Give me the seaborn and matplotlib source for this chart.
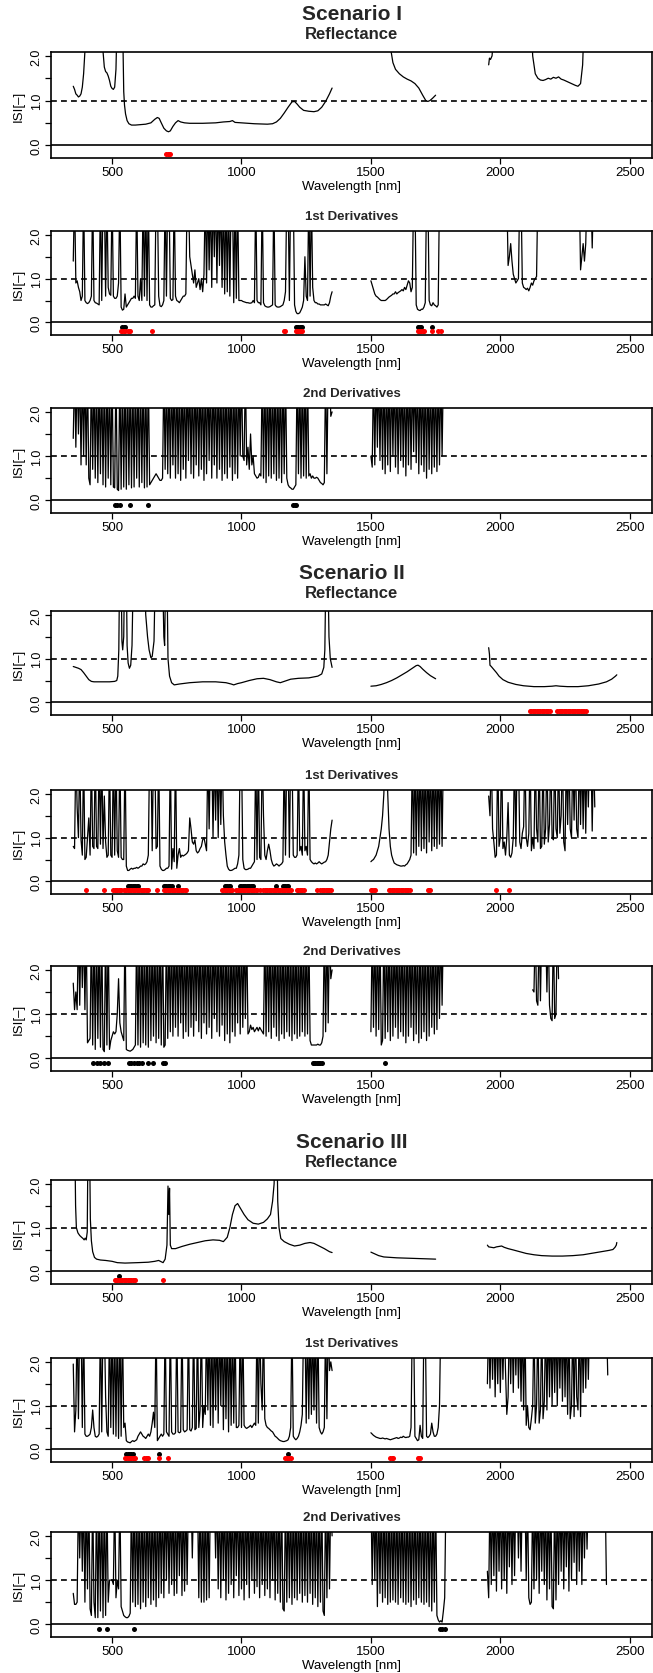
import numpy as np
import pandas as pd
import matplotlib
matplotlib.use("Agg")
import matplotlib.pyplot as plt
import seaborn as sns

sns.set_theme(style="ticks")
plt.rcParams['font.family'] = ['Liberation Sans', 'DejaVu Sans']
NARROW = ['Liberation Sans Narrow', 'Liberation Sans', 'DejaVu Sans']
nan = float('nan')

# ---------------- data ----------------
scenarios = ["Scenario I", "Scenario II", "Scenario III"]
panel_titles = ["Reflectance", "1st Derivatives", "2nd Derivatives"]
x_ticks = [500, 1000, 1500, 2000, 2500]
y_ticks = [0.0, 0.5, 1.0, 1.5, 2.0]
y_ticklabels = ["0.0", "", "1.0", "", "2.0"]
STEP = 5  # sampling interval (nm) of the derivative ISI spectra

# Reflectance ISI (wavelength, value); nan separates the spectral segments
s1_refl_wl = [350, 355, 360, 365, 370, 375, 380, 385, 390, 395, 400, 460, 465, 470, 475, 480, 485, 490, 495, 500,
              505, 510, 515, 520, 540, 545, 548, 552, 558, 565, 575, 590, 610, 630, 650, 665, 675, 682, 690, 700,
              710, 718, 725, 735, 745, 755, 765, 780, 800, 850, 900, 930, 955, 965, 975, 1000, 1050, 1100, 1120, 1135,
              1150, 1165, 1180, 1195, 1205, 1215, 1225, 1240, 1260, 1280, 1295, 1310, 1325, 1340, 1350, 1400,
              1570, 1578, 1585, 1595, 1610, 1625, 1640, 1655, 1670, 1685, 1700, 1712, 1720, 1728, 1738, 1750, 1850,
              1955, 1958, 1962, 1968, 1975, 1980, 2118, 2125, 2135, 2145, 2155, 2165, 2175, 2185, 2195, 2205, 2215,
              2225, 2235, 2245, 2260, 2275, 2290, 2300, 2310, 2318, 2325, 2450]
s1_refl_val = [1.32, 1.25, 1.15, 1.12, 1.08, 1.1, 1.15, 1.3, 1.6, 2.1, 3, 3, 2.1, 1.75, 1.65, 1.62, 1.55, 1.45, 1.32, 1.27,
               1.25, 1.3, 1.7, 3, 3, 1.2, 0.9, 0.7, 0.55, 0.48, 0.45, 0.45, 0.46, 0.47, 0.5, 0.58, 0.62, 0.6, 0.5, 0.38,
               0.32, 0.3, 0.32, 0.42, 0.5, 0.55, 0.52, 0.5, 0.49, 0.49, 0.5, 0.52, 0.53, 0.55, 0.51, 0.5, 0.48, 0.47, 0.48, 0.52,
               0.6, 0.72, 0.85, 0.97, 0.98, 0.92, 0.85, 0.78, 0.76, 0.75, 0.77, 0.85, 0.98, 1.15, 1.28, nan,
               3, 2.1, 1.85, 1.7, 1.6, 1.53, 1.48, 1.44, 1.38, 1.28, 1.12, 1.0, 0.98, 1.0, 1.05, 1.12, nan,
               1.8, 1.95, 1.92, 2.0, 2.5, 3, 3, 2.0, 1.6, 1.5, 1.46, 1.45, 1.47, 1.5, 1.48, 1.52, 1.5,
               1.53, 1.48, 1.46, 1.42, 1.38, 1.34, 1.32, 1.38, 1.8, 3, 3]

s2_refl_wl = [350, 360, 370, 380, 390, 400, 410, 420, 430, 460, 490, 510, 518, 522, 526, 529, 535, 538, 541, 545,
              548, 555, 558, 562, 567, 572, 577, 582, 625, 630, 637, 643, 650, 655, 662, 667, 695, 700, 703, 707,
              712, 716, 722, 730, 740, 760, 800, 850, 900, 940, 960, 970, 985, 1000, 1030, 1060, 1085, 1110, 1135, 1150,
              1165, 1190, 1220, 1260, 1295, 1310, 1318, 1322, 1326, 1334, 1338, 1343, 1350, 1400,
              1500, 1520, 1540, 1560, 1580, 1600, 1620, 1640, 1660, 1675, 1682, 1690, 1700, 1715, 1730, 1750, 1850,
              1955, 1958, 1960, 1965, 1975, 1985, 1995, 2010, 2030, 2060, 2090, 2130, 2170, 2200, 2215, 2230, 2260,
              2300, 2340, 2380, 2410, 2430, 2445, 2450]
s2_refl_val = [0.82, 0.8, 0.78, 0.75, 0.68, 0.6, 0.52, 0.48, 0.47, 0.47, 0.47, 0.48, 0.5, 0.6, 1.2, 3, 3, 1.4, 1.2, 1.5,
               3, 3, 1.3, 0.9, 0.78, 0.85, 1.3, 3, 3, 2.0, 1.5, 1.2, 1.02, 1.05, 1.4, 3, 3, 1.5, 1.3, 3,
               3, 1.0, 0.6, 0.45, 0.4, 0.42, 0.45, 0.47, 0.47, 0.45, 0.42, 0.4, 0.43, 0.45, 0.5, 0.54, 0.55, 0.52, 0.47, 0.45,
               0.48, 0.53, 0.55, 0.56, 0.6, 0.65, 0.8, 1.2, 3, 3, 1.5, 1.0, 0.8, nan,
               0.37, 0.38, 0.41, 0.45, 0.5, 0.56, 0.63, 0.7, 0.78, 0.84, 0.85, 0.82, 0.76, 0.68, 0.61, 0.54, nan,
               1.25, 1.1, 0.85, 0.82, 0.75, 0.68, 0.6, 0.52, 0.46, 0.41, 0.38, 0.36, 0.36, 0.37, 0.38, 0.37, 0.36,
               0.36, 0.38, 0.42, 0.47, 0.53, 0.6, 0.63]

s3_refl_wl = [350, 356, 359, 362, 368, 375, 382, 388, 392, 396, 400, 404, 407, 413, 416, 420, 425, 432, 440, 455,
              475, 500, 520, 550, 600, 640, 665, 680, 690, 697, 705, 712, 716, 719, 722, 725, 730, 745, 770, 800,
              830, 860, 890, 915, 930, 945, 955, 965, 975, 985, 995, 1010, 1025, 1045, 1065, 1085, 1100, 1112, 1120, 1126,
              1130, 1137, 1140, 1145, 1152, 1165, 1185, 1205, 1225, 1245, 1265, 1280, 1300, 1320, 1340, 1350, 1400,
              1500, 1515, 1530, 1550, 1575, 1600, 1650, 1700, 1750, 1850,
              1950, 1955, 1965, 1975, 1985, 1995, 2005, 2015, 2030, 2050, 2075, 2100, 2130, 2160, 2200, 2240, 2280,
              2320, 2350, 2380, 2400, 2420, 2435, 2443, 2448, 2450]
s3_refl_val = [3, 3, 1.5, 1.0, 0.88, 0.82, 0.78, 0.75, 0.72, 0.76, 0.72, 0.9, 3, 3, 1.2, 0.7, 0.45, 0.32, 0.28, 0.26,
               0.25, 0.23, 0.2, 0.19, 0.2, 0.21, 0.23, 0.25, 0.22, 0.2, 0.28, 0.6, 1.95, 1.3, 1.9, 0.6, 0.52, 0.52, 0.57, 0.62,
               0.66, 0.7, 0.72, 0.71, 0.68, 0.78, 1.0, 1.3, 1.5, 1.55, 1.45, 1.3, 1.18, 1.1, 1.08, 1.12, 1.2, 1.3, 1.6, 2.0,
               3, 3, 1.6, 1.0, 0.75, 0.68, 0.62, 0.58, 0.6, 0.64, 0.66, 0.64, 0.58, 0.52, 0.45, 0.43, nan,
               0.44, 0.4, 0.36, 0.33, 0.32, 0.31, 0.3, 0.29, 0.28, nan,
               0.6, 0.56, 0.55, 0.54, 0.56, 0.57, 0.58, 0.55, 0.52, 0.49, 0.45, 0.41, 0.38, 0.36, 0.35, 0.35, 0.36,
               0.38, 0.41, 0.44, 0.46, 0.48, 0.5, 0.55, 0.6, 0.66]

# Derivative ISI, sampled every STEP nm; segment a starts at 350 nm, b at 1500 nm, c as given
s1_d1_a = [1.4, 3, 0.9, 0.95, 0.8, 0.7, 0.5, 0.6, 3, 0.5,
           0.45, 0.43, 0.45, 0.5, 0.6, 3, 0.5, 0.45, 0.44, 0.42,
           0.4, 3, 0.5, 3, 3, 0.6, 3, 0.8, 0.65, 0.62,
           3, 0.6, 0.55, 0.55, 0.6, 0.9, 3, 0.35, 0.28, 0.3,
           0.65, 0.35, 0.4, 0.45, 0.5, 0.55, 0.55, 0.6, 0.55, 3,
           0.6, 0.5, 1.0, 0.5, 3, 0.6, 3, 0.5, 3, 0.4,
           0.35, 0.35, 0.38, 0.4, 3, 3, 0.6, 0.38, 0.36, 0.4,
           0.5, 3, 0.6, 3, 3, 0.55, 0.5, 0.52, 3, 0.6,
           0.5, 0.48, 0.45, 0.5, 0.55, 0.6, 0.6, 0.65, 3, 3,
           1.5, 1.3, 1.1, 0.9, 1.2, 0.8, 0.9, 1.0, 0.75, 1.0,
           0.7, 1.1, 3, 0.9, 3, 1.2, 3, 0.8, 3, 1.5,
           3, 0.9, 3, 1.3, 3, 0.8, 3, 0.65, 3, 0.7,
           3, 0.6, 3, 3, 0.45, 3, 0.55, 3, 0.5, 0.5,
           0.5, 0.48, 0.47, 0.46, 0.45, 0.45, 0.44, 0.44, 0.45, 0.5,
           0.45, 3, 0.5, 0.45, 0.45, 0.4, 3, 0.45, 0.38, 0.36,
           0.35, 0.35, 0.36, 0.38, 0.4, 3, 0.4, 0.36, 0.35, 0.35,
           0.36, 0.38, 0.4, 0.5, 0.7, 3, 3, 0.5, 3, 3,
           3, 0.4, 0.25, 0.2, 0.2, 0.22, 0.28, 0.35, 0.5, 1.5,
           0.6, 0.5, 3, 0.6, 3, 0.8, 0.5, 0.45, 0.45, 0.42,
           0.42, 0.4, 0.4, 0.4, 0.4, 0.42, 0.4, 0.38, 0.45, 0.6,
           0.7]
s1_d1_b = [0.95, 0.85, 0.75, 0.65, 0.6, 0.58, 0.55, 0.52, 0.5, 0.5,
           0.5, 0.5, 0.52, 0.55, 0.58, 0.6, 0.62, 0.65, 0.65, 0.7,
           0.65, 0.68, 0.7, 0.72, 0.75, 0.72, 0.8, 0.75, 0.85, 0.95,
           0.9, 0.7, 0.8, 3, 3, 0.4, 0.3, 0.28, 0.27, 0.3,
           0.3, 0.35, 0.45, 3, 3, 0.5, 0.4, 0.38, 0.45, 0.4,
           0.38, 0.35, 0.4, 3, 3, 3, 2.5]
s1_d1_c_start = 1950
s1_d1_c = [3, 3, 3, 3, 3, 3, 3, 3, 3, 3,
           3, 3, 3, 3, 3, 3, 1.3, 1.5, 1.8, 1.4,
           1.1, 1.0, 0.9, 0.95, 1.0, 3, 3, 0.9, 0.8, 0.78,
           0.75, 0.78, 0.72, 0.8, 0.9, 0.85, 0.95, 1.0, 1.05, 3,
           3, 3, 3, 3, 3, 3, 3, 3, 3, 3,
           3, 3, 3, 3, 3, 3, 3, 3, 3, 3,
           3, 3, 3, 3, 3, 3, 3, 3, 3, 3,
           3, 3, 1.2, 1.5, 1.8, 1.4, 1.8, 3, 3, 3,
           3, 1.7, 3, 3, 3, 3, 3, 3, 3, 3,
           3, 3, 3, 3, 3, 3, 3, 3, 3, 3, 3]

s1_d2_a = [1.4, 3, 1.2, 3, 1.5, 3, 0.8, 3, 1.0, 3,
           0.8, 3, 0.5, 0.35, 3, 0.7, 3, 0.5, 3, 0.4,
           3, 0.6, 3, 0.35, 3, 0.3, 3, 0.5, 3, 0.35,
           3, 0.3, 0.28, 3, 0.25, 0.22, 3, 0.25, 3, 0.3,
           3, 0.25, 3, 0.35, 3, 0.28, 3, 0.3, 3, 0.5,
           3, 0.3, 3, 0.4, 3, 0.28, 3, 0.3, 3, 0.35,
           0.4, 0.45, 0.5, 0.55, 0.6, 0.55, 0.5, 0.45, 0.45, 0.5,
           3, 0.7, 3, 0.6, 3, 0.5, 3, 0.8, 3, 0.5,
           3, 0.6, 3, 0.45, 3, 0.7, 3, 0.5, 3, 0.9,
           3, 0.6, 3, 0.5, 3, 0.8, 3, 0.55, 3, 0.7,
           3, 0.45, 3, 0.6, 3, 0.9, 3, 0.5, 3, 0.8,
           3, 0.5, 3, 0.7, 3, 0.45, 3, 0.6, 3, 0.5,
           3, 0.75, 3, 0.45, 3, 0.6, 3, 0.5, 3, 1.0,
           3, 1.0, 0.9, 3, 0.8, 1.2, 0.7, 1.5, 0.8, 1.0,
           0.6, 0.55, 0.5, 0.52, 0.6, 0.55, 3, 0.5, 3, 0.4,
           3, 0.55, 3, 0.5, 3, 0.6, 3, 0.45, 3, 0.5,
           3, 0.4, 3, 0.6, 3, 0.5, 0.35, 0.3, 0.28, 0.25,
           0.25, 0.3, 0.35, 3, 0.6, 3, 0.5, 3, 0.55, 3,
           0.5, 3, 0.55, 0.6, 0.5, 0.55, 0.5, 0.5, 0.52, 0.5,
           0.45, 0.4, 0.38, 0.35, 0.4, 3, 0.6, 3, 3, 1.9,
           2.0]
s1_d2_b = [1.0, 0.75, 3, 0.8, 3, 1.2, 3, 0.9, 3, 0.7,
           3, 0.6, 3, 0.8, 3, 0.65, 3, 1.0, 3, 0.75,
           3, 0.6, 3, 0.9, 3, 0.75, 3, 0.55, 3, 0.8,
           3, 0.7, 3, 1.1, 3, 0.85, 3, 0.6, 3, 0.8,
           3, 0.65, 3, 0.5, 3, 0.7, 3, 0.6, 3, 0.75,
           3, 0.65, 3, 0.8, 3, 1.0, 3]
s1_d2_c_start = 1950
s1_d2_c = []

s2_d1_a = [0.8, 0.75, 3, 1.7, 1.0, 3, 0.95, 0.6, 3, 0.5,
           0.55, 1.0, 1.45, 0.6, 3, 0.8, 0.75, 3, 0.8, 0.75,
           3, 0.85, 3, 0.75, 1.95, 0.9, 0.55, 0.6, 3, 0.6,
           0.55, 3, 0.6, 3, 0.7, 0.55, 3, 0.55, 0.5, 0.5,
           3, 0.35, 0.25, 0.25, 0.28, 0.3, 0.28, 0.3, 0.3, 0.32,
           0.3, 0.32, 0.35, 0.35, 0.4, 0.38, 0.4, 0.45, 0.6, 3,
           3, 0.7, 3, 3, 0.75, 0.8, 3, 0.35, 0.28, 0.25,
           0.25, 0.27, 0.3, 0.3, 0.35, 3, 0.28, 0.75, 0.45, 3,
           0.3, 0.6, 0.75, 0.55, 0.6, 0.58, 0.6, 0.62, 0.65, 0.7,
           1.45, 1.2, 0.9, 0.85, 0.95, 0.7, 0.65, 0.68, 0.75, 0.8,
           0.95, 1.0, 0.85, 0.7, 3, 1.2, 3, 3, 1.0, 3,
           1.4, 3, 1.0, 3, 1.3, 3, 1.5, 0.9, 0.6, 0.35,
           0.28, 0.25, 0.25, 0.26, 0.28, 0.3, 0.3, 0.4, 0.6, 3,
           3, 0.5, 0.3, 0.27, 0.27, 0.28, 0.3, 0.3, 0.35, 0.4,
           0.45, 3, 0.5, 3, 0.55, 0.5, 3, 1.5, 0.6, 0.5,
           0.7, 0.85, 0.7, 0.5, 0.4, 0.35, 0.37, 0.4, 0.38, 0.35,
           0.38, 0.4, 0.45, 3, 0.6, 3, 3, 0.55, 3, 3,
           0.6, 0.55, 0.55, 0.6, 3, 0.7, 0.8, 0.6, 3, 0.7,
           0.8, 0.6, 3, 0.5, 0.45, 0.42, 0.4, 0.42, 0.4, 0.42,
           0.45, 0.42, 0.4, 0.42, 0.44, 0.45, 0.5, 0.6, 0.9, 1.2,
           1.4]
s2_d1_b = [0.45, 0.48, 0.5, 0.55, 0.6, 0.7, 0.8, 1.0, 1.2, 1.5,
           2.0, 3, 3, 2.0, 1.2, 0.8, 0.6, 0.5, 0.42, 0.4,
           0.38, 0.37, 0.36, 0.35, 0.35, 0.36, 0.35, 0.38, 0.4, 0.45,
           0.5, 0.6, 3, 0.65, 3, 0.6, 3, 0.8, 3, 0.7,
           3, 0.75, 3, 0.65, 3, 0.9, 3, 0.7, 3, 0.8,
           3, 0.75, 3, 0.85, 3, 0.8, 3]
s2_d1_c_start = 1950
s2_d1_c = [nan, 1.95, 1.5, 3, 1.2, 0.9, 0.55, 0.6, 3, 0.8,
           1.0, 3, 0.75, 0.9, 0.6, 1.0, 1.8, 0.6, 0.55, 0.65,
           1.0, 3, 0.8, 3, 3, 0.9, 0.75, 1.1, 1.25, 3,
           1.0, 0.8, 1.1, 3, 0.7, 1.0, 0.75, 3, 1.2, 0.9,
           3, 0.75, 0.8, 3, 0.85, 1.2, 3, 0.9, 1.3, 3,
           1.0, 0.95, 3, 1.2, 1.0, 3, 1.1, 1.5, 3, 0.9,
           0.7, 3, 1.3, 3, 1.2, 1.0, 3, 1.4, 3, 1.2,
           1.0, 3, 1.3, 3, 1.2, 3, 1.1, 3, 1.7, 3,
           3, 1.15, 3, 1.7]

s2_d2_a = [1.7, 1.1, 1.5, 1.1, 3, 1.2, 3, 1.6, 3, 1.1,
           3, 0.35, 0.4, 0.45, 3, 0.3, 3, 0.2, 3, 0.45,
           3, 0.25, 3, 0.2, 0.15, 3, 0.3, 3, 0.2, 0.4,
           0.5, 0.6, 0.55, 0.6, 1.0, 1.8, 0.8, 0.6, 0.5, 0.4,
           3, 0.2, 0.18, 0.17, 0.16, 0.18, 0.2, 0.25, 0.3, 3,
           0.3, 3, 0.25, 3, 0.35, 3, 0.3, 3, 0.25, 3,
           0.4, 3, 0.5, 3, 0.35, 3, 0.45, 3, 0.3, 3,
           0.25, 0.3, 3, 0.45, 3, 0.6, 3, 0.5, 3, 0.7,
           3, 0.5, 3, 0.8, 3, 0.45, 3, 0.6, 3, 0.5,
           3, 0.7, 3, 0.5, 3, 0.85, 3, 0.6, 3, 0.45,
           3, 0.8, 3, 0.55, 3, 0.7, 3, 0.45, 3, 0.9,
           3, 0.6, 3, 0.5, 3, 0.75, 3, 0.4, 3, 0.55,
           3, 0.35, 3, 0.6, 3, 0.5, 3, 0.8, 3, 0.55,
           3, 0.7, 3, 0.9, 3, 0.55, 0.6, 0.75, 0.65, 0.7,
           0.6, 0.65, 0.7, 0.62, 0.7, 0.65, 0.6, 0.55, 3, 0.5,
           3, 0.6, 3, 0.45, 3, 0.7, 3, 0.5, 3, 0.4,
           3, 0.55, 3, 0.45, 3, 0.6, 3, 0.5, 3, 0.4,
           3, 0.55, 3, 0.45, 3, 0.5, 3, 0.6, 3, 0.5,
           3, 0.55, 3, 0.4, 0.3, 0.3, 0.3, 0.3, 0.3, 0.32,
           0.3, 0.3, 0.35, 0.5, 3, 0.6, 3, 0.8, 3, 1.8,
           2.0]
s2_d2_b = [0.6, 3, 0.7, 3, 0.5, 3, 0.65, 3, 0.3, 0.4,
           3, 0.45, 3, 0.6, 3, 0.4, 3, 0.5, 3, 0.7,
           3, 0.45, 3, 0.6, 3, 0.5, 3, 0.35, 3, 0.5,
           3, 0.7, 3, 0.4, 3, 0.55, 3, 0.35, 3, 0.45,
           3, 0.6, 3, 0.4, 3, 0.5, 3, 0.7, 3, 0.55,
           3, 0.65, 3, 0.9, 3, 1.2, 3]
s2_d2_c_start = 2125
s2_d2_c = [1.55, 1.5, 3, 1.3, 1.2, 3, 1.3, 3, 3, 3,
           3, 1.5, 3, 1.2, 0.9, 0.85, 3, 0.9, 1.0, 3, 1.8]

s3_d1_a = [1.95, 0.4, 0.9, 3, 0.7, 3, 3, 0.5, 3, 0.35,
           0.3, 0.3, 0.32, 0.35, 0.5, 0.9, 0.5, 0.3, 0.28, 0.3,
           0.35, 3, 0.4, 3, 3, 1.2, 0.4, 0.3, 3, 0.5,
           3, 0.35, 3, 0.3, 3, 0.25, 3, 0.3, 3, 0.5,
           0.6, 0.2, 0.17, 0.16, 0.15, 0.18, 0.2, 0.18, 0.2, 0.22,
           0.3, 0.35, 0.4, 0.35, 0.3, 0.28, 0.25, 0.3, 0.35, 0.3,
           0.4, 0.6, 0.85, 0.5, 3, 0.2, 0.25, 0.3, 0.35, 0.3,
           0.35, 3, 0.4, 0.35, 0.3, 3, 0.4, 0.35, 0.35, 0.38,
           3, 0.4, 0.38, 0.4, 3, 0.45, 0.4, 0.42, 0.45, 3,
           0.45, 0.42, 0.5, 3, 0.45, 0.48, 3, 0.5, 0.9, 3,
           0.5, 1.0, 0.8, 3, 0.9, 3, 0.55, 3, 0.5, 3,
           0.9, 3, 0.6, 3, 1.0, 3, 0.45, 3, 0.7, 3,
           0.4, 3, 0.55, 3, 0.6, 3, 0.5, 0.5, 0.55, 3,
           0.5, 3, 0.55, 0.5, 0.48, 0.5, 0.52, 0.55, 0.5, 0.55,
           0.6, 0.55, 3, 0.6, 3, 1.5, 0.9, 3, 0.7, 0.55,
           0.5, 0.48, 0.45, 0.42, 0.4, 0.35, 0.3, 0.28, 0.25, 0.22,
           0.2, 0.19, 0.18, 0.18, 0.19, 0.2, 0.22, 0.3, 0.5, 3,
           0.3, 0.25, 0.22, 0.25, 0.3, 0.4, 0.55, 0.8, 3, 3,
           0.6, 3, 0.7, 3, 0.8, 3, 0.9, 3, 0.6, 3,
           0.5, 0.4, 0.35, 0.4, 0.5, 3, 0.7, 3, 1.8, 2.0,
           1.8]
s3_d1_b = [0.38, 0.35, 0.32, 0.3, 0.28, 0.27, 0.26, 0.25, 0.25, 0.26,
           0.25, 0.24, 0.25, 0.24, 0.23, 0.22, 0.23, 0.24, 0.25, 0.26,
           0.27, 0.25, 0.26, 0.28, 0.27, 0.3, 0.28, 0.27, 0.28, 0.28,
           0.3, 0.5, 3, 3, 0.3, 0.25, 0.2, 0.22, 0.55, 0.3,
           0.25, 3, 3, 0.3, 0.27, 0.3, 0.35, 0.6, 0.4, 0.3,
           0.3, 0.35, 0.5, 1.0, 3, 3, 3]
s3_d1_c_start = 1950
s3_d1_c = [1.5, 3, 1.4, 3, 1.6, 3, 1.2, 3, 1.5, 3,
           1.3, 3, 1.6, 3, 1.8, 0.8, 1.2, 3, 1.5, 3,
           1.3, 3, 1.7, 3, 1.4, 3, 1.1, 3, 0.9, 3,
           0.55, 1.0, 0.5, 0.45, 0.7, 1.0, 3, 0.6, 1.0, 3,
           0.6, 0.9, 3, 0.7, 1.1, 3, 0.9, 3, 1.2, 3,
           1.0, 3, 1.3, 3, 1.0, 3, 1.4, 3, 1.1, 3,
           1.2, 3, 0.8, 3, 0.7, 1.0, 3, 0.75, 3, 1.2,
           0.9, 3, 0.75, 3, 1.3, 3, 1.4, 3, 1.6, 3,
           3, 3, 3, 3, 3, 3, 3, 3, 3, 3,
           3, 3, 3, 1.7]

s3_d2_a = [0.7, 0.45, 0.45, 0.5, 3, 1.5, 3, 1.2, 3, 0.5,
           3, 0.8, 3, 0.35, 0.2, 3, 0.5, 0.15, 3, 0.15,
           3, 0.3, 3, 0.15, 3, 0.2, 3, 0.5, 1.0, 1.0,
           1.0, 0.9, 3, 0.6, 1.0, 0.8, 3, 0.4, 0.3, 0.2,
           0.17, 0.15, 0.15, 0.18, 0.25, 3, 0.5, 3, 0.4, 3,
           0.45, 3, 0.35, 3, 0.5, 3, 0.4, 3, 0.6, 3,
           0.45, 3, 0.55, 3, 0.4, 3, 0.6, 3, 0.7, 3,
           0.6, 3, 1.0, 3, 0.7, 3, 0.9, 3, 0.65, 3,
           0.7, 3, 1.1, 3, 0.65, 3, 0.75, 3, 0.9, 3,
           3, 3, 1.5, 3, 3, 3, 3, 0.6, 3, 0.5,
           3, 0.5, 3, 0.55, 3, 0.6, 3, 3, 3, 3,
           1.5, 3, 0.8, 3, 0.6, 3, 1.0, 3, 0.55, 3,
           0.7, 3, 0.9, 3, 0.6, 3, 1.1, 3, 0.65, 3,
           0.8, 3, 0.55, 3, 0.9, 3, 0.6, 3, 1.0, 3,
           0.7, 3, 0.85, 3, 0.6, 3, 0.9, 3, 0.65, 3,
           0.8, 3, 0.6, 3, 1.0, 3, 0.55, 3, 0.7, 3,
           0.5, 3, 0.35, 0.3, 3, 0.5, 3, 0.6, 3, 0.45,
           3, 0.6, 3, 0.55, 3, 0.7, 3, 0.5, 3, 0.65,
           3, 0.5, 3, 0.7, 3, 0.45, 3, 0.6, 3, 0.4,
           3, 0.5, 3, 0.3, 0.2, 3, 0.6, 3, 0.8, 3,
           2.0]
s3_d2_b = [3, 0.9, 3, 1.0, 3, 0.4, 3, 0.7, 3, 0.5,
           3, 0.6, 3, 0.45, 3, 0.5, 3, 0.55, 3, 0.5,
           3, 0.45, 3, 0.6, 3, 0.5, 3, 0.45, 3, 0.5,
           3, 0.4, 3, 0.55, 3, 0.45, 3, 0.6, 3, 0.5,
           3, 0.45, 3, 0.5, 3, 0.4, 3, 0.3, 3, 0.5,
           3, 0.2, 0.1, 0.05, 0.08, 0.05, 0.3, 0.6, 3]
s3_d2_c_start = 1950
s3_d2_c = [1.2, 0.6, 3, 0.9, 3, 1.1, 3, 0.75, 3, 1.2,
           3, 0.8, 3, 1.0, 3, 0.7, 3, 1.3, 3, 0.9,
           3, 1.1, 3, 3, 1.5, 3, 1.2, 3, 3, 3,
           1.0, 3, 0.6, 0.45, 0.5, 3, 0.8, 3, 1.0, 3,
           0.7, 3, 1.2, 3, 0.9, 3, 0.55, 3, 0.8, 3,
           0.4, 0.35, 3, 0.55, 3, 0.9, 3, 1.2, 3, 0.8,
           3, 1.3, 3, 0.75, 3, 1.0, 3, 1.4, 3, 0.9,
           3, 1.2, 3, 0.9, 3, 1.5, 3, 1.7, 3, 3,
           3, 3, 3, 3, 3, 3, 3, 3, 3, 3,
           3, 3, 0.9]

# Selected bands: black = first marker row, red = second marker row
s1_refl_black = []
s1_refl_red = [710, 715, 720, 725]
s1_d1_black = [540, 545, 550, 1210, 1215, 1220, 1225, 1230, 1235, 1680, 1685, 1690, 1695, 1735]
s1_d1_red = [535, 540, 545, 550, 560, 565, 570, 655, 1165, 1170, 1210, 1215, 1220, 1225, 1230, 1235,
             1680, 1685, 1690, 1695, 1700, 1705, 1735, 1760, 1770]
s1_d2_black = [510, 520, 530, 570, 640, 1200, 1205, 1210]
s1_d2_red = []
s2_refl_black = []
s2_refl_red = [2115, 2120, 2125, 2130, 2135, 2140, 2145, 2150, 2155, 2160, 2165, 2170, 2175, 2180, 2185, 2190,
               2220, 2225, 2230, 2235, 2240, 2245, 2250, 2255, 2260, 2265, 2270, 2275, 2280, 2285, 2290, 2295,
               2300, 2305, 2310, 2315, 2320, 2325, 2330]
s2_d1_black = [560, 565, 570, 575, 580, 585, 590, 595, 600, 700, 705, 710, 715, 720, 725, 730, 755,
               935, 940, 945, 950, 955, 995, 1000, 1005, 1010, 1015, 1020, 1025, 1030, 1035, 1040, 1045,
               1135, 1160, 1165, 1170, 1175, 1180]
s2_d1_red = [400, 470, 505, 510, 515, 520, 525, 530, 535, 545, 550, 555, 560, 565, 570, 575, 580, 585, 590,
             595, 600, 605, 610, 615, 620, 625, 630, 635, 640, 675, 700, 705, 710, 715, 720, 725, 730, 735,
             740, 745, 750, 755, 760, 765, 770, 775, 780, 785, 925, 930, 935, 940, 945, 950, 955, 960, 965,
             980, 985, 990, 995, 1000, 1005, 1010, 1015, 1020, 1025, 1030, 1035, 1040, 1045, 1050, 1055, 1060,
             1070, 1085, 1090, 1095, 1100, 1105, 1110, 1115, 1120, 1125, 1130, 1135, 1140, 1145, 1150, 1155,
             1160, 1165, 1170, 1175, 1180, 1185, 1190, 1215, 1220, 1225, 1230, 1235, 1240, 1290, 1305, 1310,
             1315, 1320, 1325, 1330, 1335, 1340, 1345, 1500, 1505, 1510, 1515, 1570, 1575, 1580, 1585, 1590,
             1595, 1600, 1605, 1610, 1615, 1620, 1625, 1630, 1635, 1640, 1645, 1650, 1720, 1725, 1730, 1985, 2035]
s2_d2_black = [425, 440, 455, 470, 485, 565, 575, 585, 595, 605, 615, 640, 660, 695, 705,
               1275, 1280, 1285, 1290, 1295, 1300, 1305, 1310, 1555]
s2_d2_red = []
s3_refl_black = [525]
s3_refl_red = [510, 515, 520, 525, 530, 535, 540, 545, 550, 555, 560, 565, 570, 575, 580, 585, 590, 695]
s3_d1_black = [555, 560, 565, 570, 575, 580, 680, 1180]
s3_d1_red = [550, 555, 560, 565, 570, 575, 580, 585, 590, 625, 630, 635, 640, 680, 715,
             1170, 1175, 1180, 1185, 1190, 1575, 1580, 1585, 1680, 1685, 1690]
s3_d2_black = [450, 480, 585, 1765, 1775, 1785]
s3_d2_red = []

BLACK_ROW = -0.1
RED_ROW = -0.2

# ---------------- helpers ----------------
def split_segments(wl, val):
    df = pd.DataFrame({"wl": wl, "isi": val})
    grp = df["isi"].isna().cumsum()
    out = []
    for _, g in df.groupby(grp):
        g = g.dropna()
        if len(g) > 1:
            out.append(g)
    return out


def sampled(start, vals):
    if len(vals) == 0:
        return None
    df = pd.DataFrame({"wl": start + STEP * np.arange(len(vals)), "isi": vals}).dropna()
    return df


panels = [
    (split_segments(s1_refl_wl, s1_refl_val), s1_refl_black, s1_refl_red),
    ([sampled(350, s1_d1_a), sampled(1500, s1_d1_b), sampled(s1_d1_c_start, s1_d1_c)], s1_d1_black, s1_d1_red),
    ([sampled(350, s1_d2_a), sampled(1500, s1_d2_b), sampled(s1_d2_c_start, s1_d2_c)], s1_d2_black, s1_d2_red),
    (split_segments(s2_refl_wl, s2_refl_val), s2_refl_black, s2_refl_red),
    ([sampled(350, s2_d1_a), sampled(1500, s2_d1_b), sampled(s2_d1_c_start, s2_d1_c)], s2_d1_black, s2_d1_red),
    ([sampled(350, s2_d2_a), sampled(1500, s2_d2_b), sampled(s2_d2_c_start, s2_d2_c)], s2_d2_black, s2_d2_red),
    (split_segments(s3_refl_wl, s3_refl_val), s3_refl_black, s3_refl_red),
    ([sampled(350, s3_d1_a), sampled(1500, s3_d1_b), sampled(s3_d1_c_start, s3_d1_c)], s3_d1_black, s3_d1_red),
    ([sampled(350, s3_d2_a), sampled(1500, s3_d2_b), sampled(s3_d2_c_start, s3_d2_c)], s3_d2_black, s3_d2_red),
]

# ---------------- figure ----------------
W, H = 653, 1674
fig = plt.figure(figsize=(W / 100, H / 100), dpi=100)
fig.patch.set_facecolor("white")

box_px = [(53, 159), (232, 336), (409, 514), (612, 716), (791, 895), (967, 1072),
          (1181, 1285), (1359, 1463), (1533, 1638)]
left_px, right_px = 51, 652

for i, ((top, bot), (segments, blk, red)) in enumerate(zip(box_px, panels)):
    ax = fig.add_axes([left_px / W, 1 - bot / H, (right_px - left_px) / W, (bot - top) / H])
    ax.set_facecolor("white")
    for seg in segments:
        if seg is None or len(seg) < 2:
            continue
        sns.lineplot(data=seg, x="wl", y="isi", ax=ax, color="black", lw=0.9,
                     estimator=None, sort=False, legend=False)
    ax.axhline(1.0, color="black", lw=1.2, ls=(0, (3.5, 2.5)))
    ax.axhline(0.0, color="black", lw=1.2)
    if blk:
        sns.scatterplot(x=blk, y=[BLACK_ROW] * len(blk), ax=ax, color="black", s=13, linewidth=0, legend=False)
    if red:
        sns.scatterplot(x=red, y=[RED_ROW] * len(red), ax=ax, color="#ff0000", s=13, linewidth=0, legend=False)

    ax.set_xlim(264, 2586)
    ax.set_ylim(-0.288, 2.088)
    ax.set_xticks(x_ticks)
    ax.set_xticklabels([str(t) for t in x_ticks], fontsize=9.5, family=NARROW)
    ax.set_yticks(y_ticks)
    ax.set_yticklabels(y_ticklabels, rotation=90, va="center", fontsize=9)
    ax.tick_params(direction="out", length=4, width=0.9, color="black", pad=2, labelcolor="black")
    for sp in ax.spines.values():
        sp.set_visible(True)
        sp.set_color("black")
        sp.set_linewidth(1.2)
    ax.set_xlabel("Wavelength [nm]", fontsize=9.5, family=NARROW, labelpad=1, color="black")
    ax.set_ylabel("ISI[–]", fontsize=9.5, labelpad=4, color="black")

    kind = i % 3
    if kind == 0:
        ax.annotate(panel_titles[0], xy=(0.5, 1), xycoords="axes fraction", xytext=(0, 13.5),
                    textcoords="offset points", ha="center", va="center", fontsize=12, fontweight="bold")
        ax.annotate(scenarios[i // 3], xy=(0.5, 1), xycoords="axes fraction", xytext=(0, 27.5),
                    textcoords="offset points", ha="center", va="center", fontsize=15, fontweight="bold")
    else:
        ax.annotate(panel_titles[kind], xy=(0.5, 1), xycoords="axes fraction", xytext=(0, 11),
                    textcoords="offset points", ha="center", va="center", fontsize=9.5,
                    fontweight="bold", family=NARROW)

fig.savefig("out.png", dpi=100, facecolor="white")
